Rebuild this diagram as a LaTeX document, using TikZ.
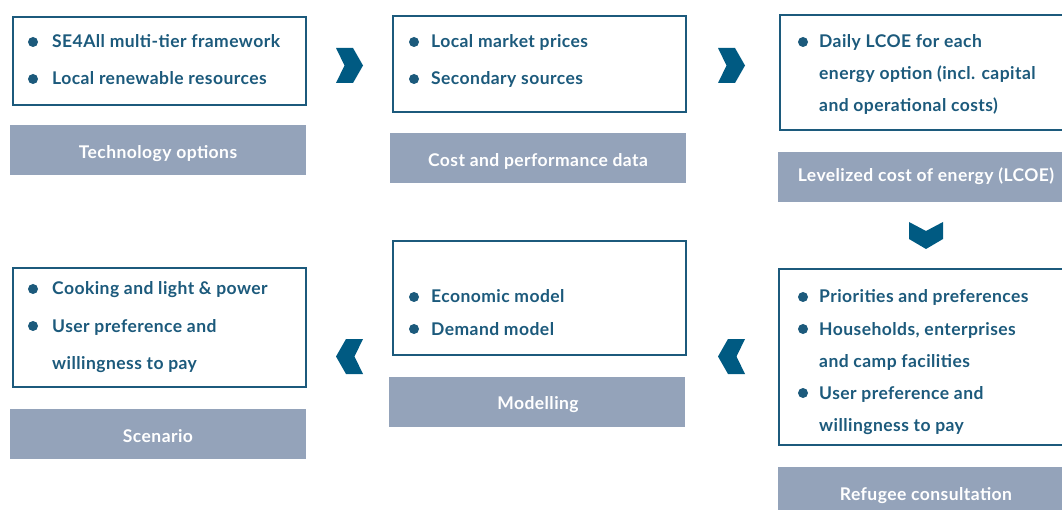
\documentclass[tikz,border=0pt]{standalone}
\usepackage{fontspec}
\setmainfont{Lato}[LetterSpace=2.5]
\definecolor{teal}{HTML}{1C5A7C}
\definecolor{chev}{HTML}{005A82}
\definecolor{graybox}{HTML}{94A3BA}
\tikzset{
  outbox/.style={draw=teal, line width=2pt, fill=white, minimum width=293pt, anchor=north west, inner sep=0pt},
  graybar/.style={fill=graybox, draw=none, minimum width=296pt, minimum height=50pt, anchor=north west, inner sep=0pt},
  itm/.style={anchor=base west, inner sep=0pt, text=teal, font=\fontsize{17.5}{20}\selectfont\bfseries},
  gtxt/.style={anchor=base, inner sep=0pt, text=white, font=\fontsize{17.5}{20}\selectfont\bfseries},
  dot/.style={fill=teal, circle, inner sep=0pt, minimum size=10pt},
  chevfill/.style={fill=chev, draw=none},
  pics/chevR/.style={code={\fill[chevfill] (0,0) -- (17,0) -- (27,17.5) -- (17,35) -- (0,35) -- (8.5,17.5) -- cycle;}},
  pics/chevL/.style={code={\fill[chevfill] (27,0) -- (10,0) -- (0,17.5) -- (10,35) -- (27,35) -- (18.5,17.5) -- cycle;}},
  pics/chevD/.style={code={\fill[chevfill] (0,0) -- (17,9) -- (34,0) -- (34,17) -- (17,27) -- (0,17) -- cycle;}},
}
\begin{document}
\begin{tikzpicture}[x=1pt,y=-1pt]
\useasboundingbox (0,0) rectangle (1062,510);
\clip (0,0) rectangle (1062,510);
% column 1 top
\node[outbox, minimum height=88pt] (b1) at (12,16) {};
\node[graybar] (g1) at (10,125) {};
\node[gtxt] (g1t) at (158,159) {Technology options};
\node[dot] (d11) at (33,42) {};
\node[itm] (t11) at (52,48) {SE4All multi-tier framework};
\node[dot] (d12) at (33,79) {};
\node[itm] (t12) at (52,85) {Local renewable resources};
% column 2 top
\node[outbox, minimum height=96pt] (b2) at (392,15) {};
\node[graybar] (g2) at (390,133) {};
\node[gtxt] (g2t) at (538,167) {Cost and performance data};
\node[dot] (d21) at (414,42) {};
\node[itm] (t21) at (431,48) {Local market prices};
\node[dot] (d22) at (414,79) {};
\node[itm] (t22) at (431,85) {Secondary sources};
% column 3 top
\node[outbox, minimum height=115pt] (b3) at (779,14) {};
\node[graybar] (g3) at (778,152) {};
\node[gtxt] (g3t) at (926,182) {Levelized cost of energy (LCOE)};
\node[dot] (d31) at (803,42) {};
\node[itm] (t31) at (819,48) {Daily LCOE for each};
\node[itm] (t32) at (819,80) {energy option (incl. capital};
\node[itm] (t33) at (819,112) {and operational costs)};
% column 3 bottom
\node[outbox, minimum height=176pt] (b4) at (778,268) {};
\node[graybar] (g4) at (778,467) {};
\node[gtxt] (g4t) at (926,500) {Refugee consultation};
\node[dot] (d41) at (803,297) {};
\node[itm] (t41) at (819,303) {Priorities and preferences};
\node[dot] (d42) at (803,329) {};
\node[itm] (t42) at (819,335) {Households, enterprises};
\node[itm] (t43) at (819,367) {and camp facilities};
\node[dot] (d44) at (803,393) {};
\node[itm] (t44) at (819,399) {User preference and};
\node[itm] (t45) at (819,431) {willingness to pay};
% column 2 bottom
\node[outbox, minimum height=114pt] (b5) at (392,240) {};
\node[graybar] (g5) at (389,377) {};
\node[gtxt] (g5t) at (538,409) {Modelling};
\node[dot] (d51) at (414,297) {};
\node[itm] (t51) at (431,303) {Economic model};
\node[dot] (d52) at (414,329) {};
\node[itm] (t52) at (431,335) {Demand model};
% column 1 bottom
\node[outbox, minimum height=119pt] (b6) at (12,267) {};
\node[graybar] (g6) at (10,409) {};
\node[gtxt] (g6t) at (158,442) {Scenario};
\node[dot] (d61) at (33,289) {};
\node[itm] (t61) at (52,295) {Cooking and light \& power};
\node[dot] (d62) at (33,326) {};
\node[itm] (t62) at (52,332) {User preference and};
\node[itm] (t63) at (52,369) {willingness to pay};
% chevrons
\pic at (336,48) {chevR};
\pic at (718,48) {chevR};
\pic at (909,222) {chevD};
\pic at (718,339) {chevL};
\pic at (336,339) {chevL};
\end{tikzpicture}
\end{document}
